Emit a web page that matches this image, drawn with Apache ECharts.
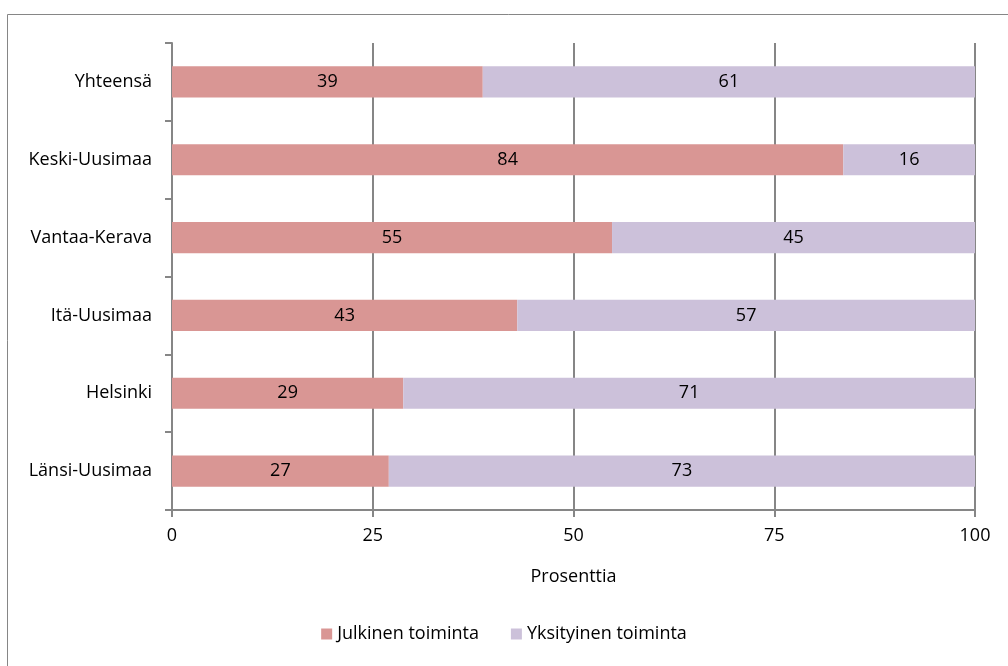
<!DOCTYPE html>
<html>
<head>
    <meta charset="utf-8">
    <title>Julkinen ja yksityinen toiminta</title>
    <script src="https://cdn.jsdelivr.net/npm/echarts@6/dist/echarts.min.js"></script>
    <style>
        html, body { margin: 0; padding: 0; background: #fff; }
        #chart1 { width: 1008px; height: 666px; }
    </style>
</head>
<body>
<div id="chart1"></div>
<script type="text/javascript">
    // alueet alhaalta ylös
    var alueet = ['Länsi-Uusimaa', 'Helsinki', 'Itä-Uusimaa', 'Vantaa-Kerava', 'Keski-Uusimaa', 'Yhteensä'];
    var julkinen = [27.0, 28.8, 43.0, 54.8, 83.6, 38.7];
    var yksityinen = [73.0, 71.2, 57.0, 45.2, 16.4, 61.3];
    var xTicks = [0, 25, 50, 75, 100];

    var fontti = '"Open Sans", Lato, sans-serif';
    var koko = 18;
    var myChart1 = echarts.init(document.getElementById('chart1'));

    var labelFmt = function (p) { return Math.round(p.value); };

    myChart1.setOption({
        animation: false,
        textStyle: { fontFamily: fontti },
        graphic: [{
            type: 'rect',
            shape: { x: 7.5, y: 14.5, width: 1010, height: 700 },
            style: { fill: 'none', stroke: '#868686', lineWidth: 1 }
        }],
        legend: {
            data: ['Julkinen toiminta', 'Yksityinen toiminta'],
            bottom: 18,
            left: 'center',
            itemWidth: 11,
            itemHeight: 11,
            itemGap: 32,
            itemTextGap: 4,
            icon: 'rect',
            textStyle: { fontSize: koko, color: '#000', fontFamily: fontti }
        },
        grid: { left: 172, right: 33, top: 43, bottom: 156 },
        xAxis: {
            type: 'value',
            min: xTicks[0],
            max: xTicks[xTicks.length - 1],
            interval: 25,
            name: 'Prosenttia',
            nameLocation: 'middle',
            nameGap: 58,
            nameTextStyle: { fontSize: koko, color: '#000' },
            axisLine: { show: true, lineStyle: { color: '#868686', width: 2 } },
            axisTick: { show: true, length: 7, lineStyle: { color: '#868686', width: 2 } },
            axisLabel: { fontSize: koko, color: '#000', margin: 17 },
            splitLine: { show: true, lineStyle: { color: '#868686', width: 2 } }
        },
        yAxis: {
            type: 'category',
            data: alueet,
            axisLine: { show: true, lineStyle: { color: '#868686', width: 2 } },
            axisTick: { show: true, length: 7, lineStyle: { color: '#868686', width: 2 } },
            axisLabel: { fontSize: koko, color: '#000', margin: 20 }
        },
        series: [{
            name: 'Julkinen toiminta',
            type: 'bar',
            stack: 'yht',
            barWidth: '40%',
            data: julkinen,
            itemStyle: { color: '#D99694' },
            label: { show: true, position: 'inside', color: '#000', fontSize: koko, formatter: labelFmt }
        }, {
            name: 'Yksityinen toiminta',
            type: 'bar',
            stack: 'yht',
            barWidth: '40%',
            data: yksityinen,
            itemStyle: { color: '#CCC1DA' },
            label: { show: true, position: 'inside', color: '#000', fontSize: koko, formatter: labelFmt }
        }]
    });
</script>
</body>
</html>
